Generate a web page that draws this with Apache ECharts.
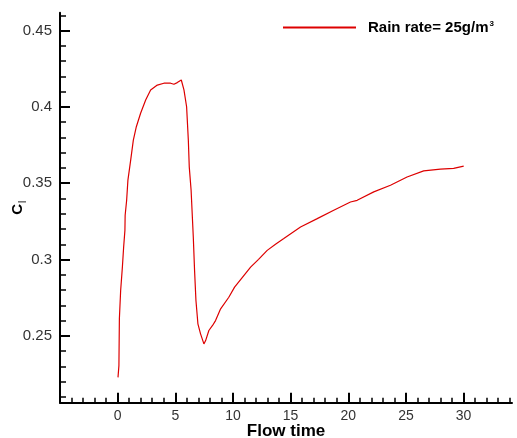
<!DOCTYPE html>
<html>
<head>
<meta charset="utf-8">
<script src="https://cdn.jsdelivr.net/npm/echarts@6/dist/echarts.min.js"></script>
<style>
    html, body { margin: 0; padding: 0; background: #fff; }
    #chart { width: 517px; height: 438px; }
</style>
</head>
<body>
<div id="chart"></div>
<script>
// flow time vs Cl
let flowTime = [0.03, 0.11, 0.15, 0.26, 0.41, 0.52, 0.63, 0.65, 0.78, 0.89, 1.13, 1.36, 1.62, 1.99, 2.43, 2.86, 3.44, 4.01,
    4.59, 4.88, 5.17, 5.52, 5.75, 5.98, 6.13, 6.21, 6.37, 6.56, 6.67, 6.79, 6.96, 7.19, 7.48, 7.63, 7.91, 8.23, 8.49,
    8.93, 9.64, 10.14, 10.75, 11.53, 12.22, 12.97, 13.69, 14.41, 15.86, 17.31, 18.74, 20.19, 20.77, 22.21, 23.66,
    25.1, 26.54, 27.99, 29.14, 30.01];
let cl = [0.2228, 0.2305, 0.2612, 0.2797, 0.295, 0.3082, 0.3191, 0.329, 0.3388, 0.352, 0.3651, 0.3782, 0.387, 0.3958,
    0.4045, 0.4111, 0.4143, 0.4155, 0.4155, 0.4148, 0.4159, 0.4176, 0.4111, 0.4001, 0.3782, 0.3607, 0.3454, 0.3147,
    0.2929, 0.2732, 0.2579, 0.2513, 0.2447, 0.2469, 0.2535, 0.2568, 0.26, 0.2677, 0.2753, 0.2819, 0.2876, 0.295,
    0.3001, 0.306, 0.31, 0.3137, 0.3213, 0.3268, 0.3323, 0.3377, 0.3388, 0.3443, 0.3487, 0.3541, 0.3581, 0.3592,
    0.3597, 0.3612];

let xMajor = [-5, 0, 5, 10, 15, 20, 25, 30];
let xLabels = [0, 5, 10, 15, 20, 25, 30];
let xMinor = [-4, -3, -2, -1, 1, 2, 3, 4, 6, 7, 8, 9, 11, 12, 13, 14, 16, 17, 18, 19, 21, 22, 23, 24, 26, 27, 28, 29, 31, 32, 33, 34];
let yMajor = [0.25, 0.3, 0.35, 0.4, 0.45];
let yMinor = [0.21, 0.22, 0.23, 0.24, 0.26, 0.27, 0.28, 0.29, 0.31, 0.32, 0.33, 0.34, 0.36, 0.37, 0.38, 0.39, 0.41, 0.42, 0.43, 0.44, 0.46];

let font = 'Liberation Sans, Arial, sans-serif';
let xMin = -5, xMax = 34.2, yMin = 0.2062, yMax = 0.4617;

let lineOf = { show: true, onZero: false, lineStyle: { color: '#000', width: 2 } };

let option = {
    backgroundColor: '#fff',
    animation: false,
    grid: { left: 60, top: 12.7, right: 5, bottom: 35.3, containLabel: false, outerBoundsMode: 'none' },
    legend: {
        data: ['Rain rate= 25g/m3'],
        left: 282,
        top: 20,
        padding: 0,
        itemWidth: 73,
        itemHeight: 14,
        itemStyle: { opacity: 0 },
        formatter: () => '{a|Rain rate= 25g/m}{b|3}',
        textStyle: {
            padding: [0, 0, 0, 7],
            rich: {
                a: { fontFamily: font, fontWeight: 'bold', fontSize: 15, color: '#000' },
                b: { fontFamily: font, fontWeight: 'bold', fontSize: 8, color: '#000', verticalAlign: 'top', padding: [0, 0, 7, 1] }
            }
        }
    },
    xAxis: [
        {
            type: 'value', min: xMin, max: xMax,
            axisLine: lineOf,
            axisTick: { inside: true, length: 10, customValues: xMajor, lineStyle: { color: '#000', width: 2 } },
            axisLabel: { customValues: xLabels, fontFamily: font, fontSize: 14, color: '#333', margin: 6 },
            splitLine: { show: false },
            name: 'Flow time',
            nameLocation: 'middle',
            nameGap: 20,
            nameMoveOverlap: false,
            nameTextStyle: { fontFamily: font, fontWeight: 'bold', fontSize: 17, color: '#000' }
        },
        {
            type: 'value', min: xMin, max: xMax, position: 'bottom',
            axisLine: { show: false, onZero: false },
            axisTick: { inside: true, length: 5, customValues: xMinor, lineStyle: { color: '#000', width: 1.5 } },
            axisLabel: { show: false },
            splitLine: { show: false }
        }
    ],
    yAxis: [
        {
            type: 'value', min: yMin, max: yMax,
            axisLine: lineOf,
            axisTick: { inside: true, length: 10, customValues: yMajor, lineStyle: { color: '#000', width: 2 } },
            axisLabel: { customValues: yMajor, fontFamily: font, fontSize: 15, color: '#333', margin: 8 },
            splitLine: { show: false },
            name: '{a|C}{b|l}',
            nameLocation: 'middle',
            nameRotate: 90,
            nameGap: 32,
            nameMoveOverlap: false,
            nameTextStyle: {
                rich: {
                    a: { fontFamily: font, fontWeight: 'bold', fontSize: 15, color: '#000', verticalAlign: 'top' },
                    b: { fontFamily: font, fontSize: 10, color: '#000', verticalAlign: 'bottom', padding: [8, 0, 0, 1] }
                }
            }
        },
        {
            type: 'value', min: yMin, max: yMax, position: 'left',
            axisLine: { show: false, onZero: false },
            axisTick: { inside: true, length: 6, customValues: yMinor, lineStyle: { color: '#000', width: 1.5 } },
            axisLabel: { show: false },
            splitLine: { show: false }
        }
    ],
    series: [
        {
            name: 'Rain rate= 25g/m3',
            type: 'line',
            symbol: 'none',
            data: flowTime.map((t, i) => [t, cl[i]]),
            lineStyle: { color: '#dd0000', width: 1.2 },
            itemStyle: { color: '#dd0000' }
        }
    ]
};

let chart = echarts.init(document.getElementById('chart'));
chart.setOption(option);
</script>
</body>
</html>
